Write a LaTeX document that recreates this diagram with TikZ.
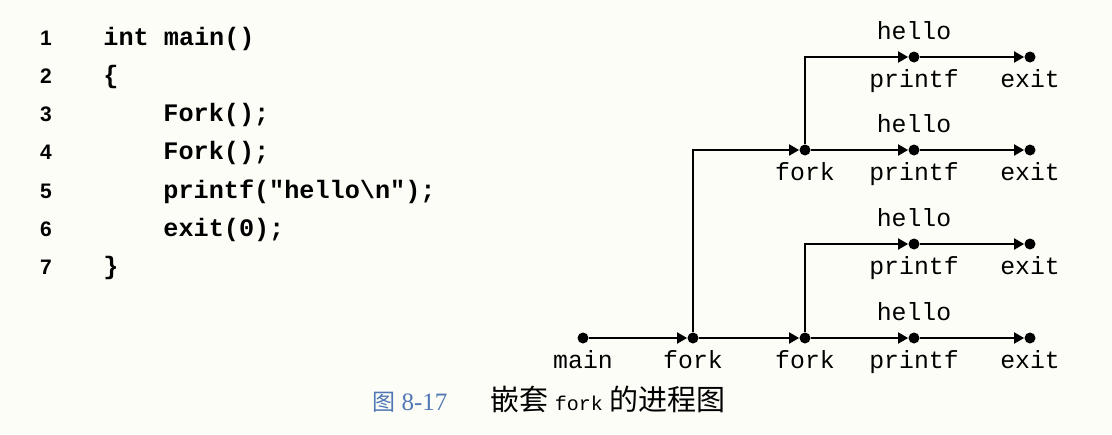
\documentclass[tikz,border=0pt]{standalone}
\usepackage{fontspec}
\setmainfont{Liberation Serif}
\setsansfont{Liberation Sans}
\setmonofont{Liberation Mono}
\newfontfamily\cjk{Noto Sans CJK SC}
\usetikzlibrary{arrows.meta}

\definecolor{paper}{RGB}{253,253,248}
\definecolor{capblue}{RGB}{80,120,180}

\tikzset{
    dot/.style={circle, fill, inner sep=0pt, minimum size=5.5pt},
    flow/.style={-{Triangle[length=5pt,width=5.5pt]}, line width=0.95pt},
    lbl/.style={font=\fontsize{12.4}{14}\ttfamily},
    up/.style={label distance=2.3pt},
    codeline/.style={anchor=base west, inner sep=0pt, font=\fontsize{12.6}{15}\ttfamily\bfseries},
    lineno/.style={anchor=base, inner sep=0pt, font=\fontsize{10.5}{12}\sffamily\bfseries},
}

\begin{document}
\begin{tikzpicture}[x=0.5pt, y=-0.5pt]
    \fill[paper] (0,0) rectangle (1112,434);
    \useasboundingbox (0,0) rectangle (1112,434);

    % listing
    \foreach \i in {1,...,7}
        \node[lineno] (num\i) at (46,{45+(\i-1)*38.3}) {\i};
    \node[codeline] (src1) at (103,45) {int main()};
    \node[codeline] (src2) at (103,83.3) {\{};
    \node[codeline] (src3) at (163,121.6) {Fork();};
    \node[codeline] (src4) at (163,159.9) {Fork();};
    \node[codeline] (src5) at (163,198.2) {printf("hello\textbackslash n");};
    \node[codeline] (src6) at (163,236.5) {exit(0);};
    \node[codeline] (src7) at (103,274.8) {\}};

    % process graph
    \node[dot, label={[lbl]below:main}] (main) at (583,338) {};
    \node[dot, label={[lbl]below:fork}] (f1) at (693,338) {};
    \node[dot, label={[lbl]below:fork}] (f2) at (805,338) {};
    \node[dot, label={[lbl]below:fork}] (f3) at (805,150) {};

    \node[dot, label={[lbl]below:printf}, label={[lbl,up]above:hello}] (p1) at (914,57) {};
    \node[dot, label={[lbl]below:printf}, label={[lbl,up]above:hello}] (p2) at (914,150) {};
    \node[dot, label={[lbl]below:printf}, label={[lbl,up]above:hello}] (p3) at (914,244) {};
    \node[dot, label={[lbl]below:printf}, label={[lbl,up]above:hello}] (p4) at (914,338) {};

    \node[dot, label={[lbl]below:exit}] (e1) at (1030,57) {};
    \node[dot, label={[lbl]below:exit}] (e2) at (1030,150) {};
    \node[dot, label={[lbl]below:exit}] (e3) at (1030,244) {};
    \node[dot, label={[lbl]below:exit}] (e4) at (1030,338) {};

    \draw[flow] (main) -- (f1);
    \draw[flow] (f1) -- (f2);
    \draw[flow] (f2) -- (p4);
    \draw[flow] (p4) -- (e4);
    \draw[flow] (f2) |- (p3);
    \draw[flow] (p3) -- (e3);
    \draw[flow] (f1) |- (f3);
    \draw[flow] (f3) -- (p2);
    \draw[flow] (p2) -- (e2);
    \draw[flow] (f3) |- (p1);
    \draw[flow] (p1) -- (e1);

    % caption
    \node[anchor=base west, inner sep=0pt, text=capblue, font=\fontsize{12.5}{15}\selectfont] (figno) at (372,410) {{\cjk\fontsize{11.5}{14}\selectfont 图}\ 8-17};
    \node[anchor=base west, inner sep=0pt, font=\fontsize{14.5}{17}\cjk] (figtitle) at (490,410) {嵌套 {\ttfamily\fontsize{10}{12}\selectfont fork} 的进程图};
\end{tikzpicture}
\end{document}
